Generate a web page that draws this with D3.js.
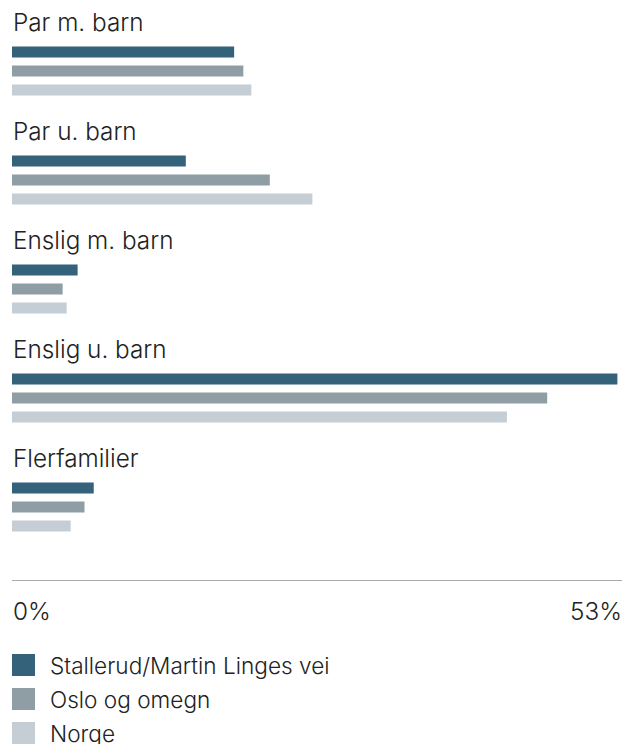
<!DOCTYPE html>
<html>
<head>
<meta charset="utf-8">
<title>Husholdninger</title>
<style>
  body { margin: 0; background: #fff; }
  text { font-family: Inter, "Noto Sans", sans-serif; fill: #222; }
</style>
</head>
<body>
<svg id="chart" width="637" height="744"></svg>
<script src="https://d3js.org/d3.v7.min.js"></script>
<script>
// data (percent)
const categories = ["Par m. barn", "Par u. barn", "Enslig m. barn", "Enslig u. barn", "Flerfamilier"];
const seriesNames = ["Stallerud/Martin Linges vei", "Oslo og omegn", "Norge"];
const stallerud = [19.3, 15.1, 5.7, 52.6, 7.1];
const oslo = [20.1, 22.4, 4.4, 46.5, 6.3];
const norge = [20.8, 26.1, 4.75, 43.0, 5.1];
const colours = ["#33627a", "#8f9ea5", "#c5ced4"];
const axisMax = 53;
const tickLabels = ["0%", "53%"];

const values = [stallerud, oslo, norge];

const svg = d3.select("#chart");
const left = 12, right = 622;

const x = d3.scaleLinear().domain([0, axisMax]).range([left, right]);
// each group is 109px tall, starting at the top
const yGroup = d3.scaleBand().domain(categories).range([0, categories.length * 109]);
const ySeries = d3.scaleBand().domain(d3.range(3)).range([46.5, 46.5 + 57]);

const groups = svg.selectAll("g.group")
    .data(categories)
    .join("g")
    .attr("class", "group")
    .attr("transform", d => `translate(0,${yGroup(d)})`);

groups.append("text")
    .attr("x", left + 1)
    .attr("y", 31)
    .style("font-size", "24.3px")
    .style("font-weight", 300)
    .text(d => d);

groups.each(function(cat, i) {
    d3.select(this).selectAll("rect")
        .data(values.map((s, j) => ({ v: s[i], j: j })))
        .join("rect")
        .attr("x", x(0))
        .attr("y", d => ySeries(d.j))
        .attr("width", d => x(d.v) - x(0))
        .attr("height", 11)
        .attr("fill", d => colours[d.j]);
});

// axis line
svg.append("line")
    .attr("x1", x(0)).attr("x2", x(axisMax))
    .attr("y1", 580.5).attr("y2", 580.5)
    .attr("stroke", "#aaaaaa")
    .attr("stroke-width", 1);

svg.append("text")
    .attr("x", x(0) + 1).attr("y", 620)
    .style("font-size", "24.3px").style("font-weight", 300)
    .text(tickLabels[0]);
svg.append("text")
    .attr("x", x(axisMax)).attr("y", 620)
    .attr("text-anchor", "end")
    .style("font-size", "24.3px").style("font-weight", 300)
    .text(tickLabels[1]);

// legend
const legend = svg.selectAll("g.legend")
    .data(seriesNames)
    .join("g")
    .attr("class", "legend")
    .attr("transform", (d, i) => `translate(${left},${654 + i * 34})`);

legend.append("rect")
    .attr("width", 23).attr("height", 22)
    .attr("fill", (d, i) => colours[i]);

legend.append("text")
    .attr("x", 38).attr("y", 20)
    .style("font-size", "22.6px").style("font-weight", 300)
    .text(d => d);
</script>
</body>
</html>
